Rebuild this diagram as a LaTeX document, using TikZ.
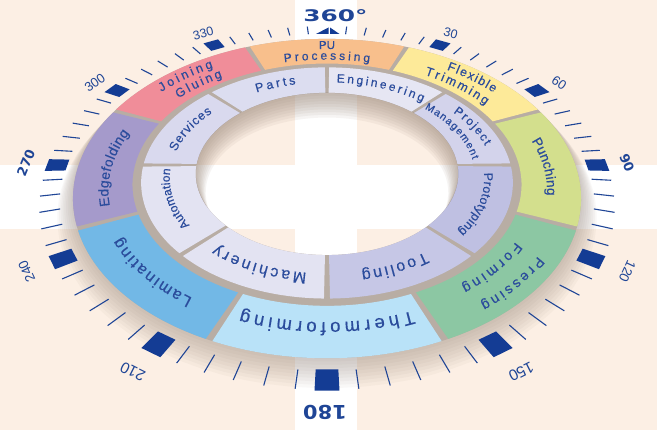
\documentclass[tikz,border=0pt]{standalone}
\usepackage{fontspec}
\setmainfont{Liberation Sans}
\newfontfamily\segfont[FakeBold=0.4]{Liberation Sans}
\newfontfamily\numfont{Liberation Sans}
\newfontfamily\bigfont{DejaVu Sans}
\usetikzlibrary{decorations.text}
\definecolor{bgpeach}{HTML}{FCEFE4}
\definecolor{taupe}{HTML}{B8ADA4}
\definecolor{shadowc}{HTML}{8A7A6E}
\definecolor{holesh}{HTML}{9C8A7C}
\definecolor{txt}{HTML}{2B4C9C}
\definecolor{tickc}{HTML}{1F4596}
\definecolor{mkc}{HTML}{143C94}
\definecolor{cPU}{HTML}{F8BF8C}
\definecolor{cFlex}{HTML}{FDEA99}
\definecolor{cPunch}{HTML}{D3DF8D}
\definecolor{cPress}{HTML}{8CC7A3}
\definecolor{cThermo}{HTML}{B9E2F8}
\definecolor{cLam}{HTML}{72B8E6}
\definecolor{cLamL}{HTML}{B6DEF5}
\definecolor{cEdge}{HTML}{A59ACB}
\definecolor{cJoin}{HTML}{F08D99}
\definecolor{iParts}{HTML}{DCDDF0}
\definecolor{iEng}{HTML}{E6E6F3}
\definecolor{iPM}{HTML}{D3D3EB}
\definecolor{iProto}{HTML}{BFC0E2}
\definecolor{iTool}{HTML}{C6C7E6}
\definecolor{iMach}{HTML}{E3E3F2}
\definecolor{iAuto}{HTML}{E3E3F2}
\definecolor{iServ}{HTML}{D9D9EE}
% segment: r1 r2 a1 a2 style
\newcommand\seg[5]{\path[#5] plot[domain=#3:#4,samples=36,variable=\ang] ({PX(#2,\ang)},{PY(#2,\ang)}) -- plot[domain=#4:#3,samples=36,variable=\ang] ({PX(#1,\ang)},{PY(#1,\ang)}) -- cycle;}
% label along arc: r a1 a2 size raise text
\newcommand\lab[6]{\path[decorate,decoration={text along path,text align=fit to path,raise=#5,text color=txt,text={|\segfont\fontsize{#4}{#4}\selectfont|#6}}] plot[domain=#2:#3,samples=30,variable=\ang] ({PX(#1,\ang)},{PY(#1,\ang)});}
\newcommand\labc[6]{\path[decorate,decoration={text along path,text align=center,raise=#5,text color=txt,text={|\segfont\fontsize{#4}{#4}\selectfont|#6}}] plot[domain=#2:#3,samples=30,variable=\ang] ({PX(#1,\ang)},{PY(#1,\ang)});}
\begin{document}
\begin{tikzpicture}[x=1pt,y=-1pt,
  declare function={PX(\fr,\fa)=327+270*\fr*sin(\fa)/(1+0.2286*\fr*cos(\fa));
                    PY(\fr,\fa)=165-165.9*\fr*cos(\fa)/(1+0.2286*\fr*cos(\fa));},
  tickline/.style={draw=tickc,line width=1.1pt},
  numlab/.style={text=tickc,font=\numfont\fontsize{#1}{#1}\selectfont,inner sep=0pt},
  boldlab/.style={text=tickc,font=\bigfont\bfseries\fontsize{#1}{#1}\selectfont,inner sep=0pt}]
\useasboundingbox (0,0) rectangle (657,430);
% background
\fill[bgpeach] (0,0) rectangle (657,430);
\fill[white] (295,0) rectangle (357,430);
\fill[white] (0,165) rectangle (657,229);
% drop shadow (annulus, keeps the hole clear)
\foreach \d in {1,...,9}{
  \fill[shadowc,opacity=0.05,even odd rule] plot[domain=0:360,samples=90,variable=\ang] ({PX(0.92+0.006*\d,\ang)},{PY(0.92+0.006*\d,\ang)+1.7*\d}) -- cycle
    plot[domain=0:360,samples=90,variable=\ang] ({PX(0.6,\ang)},{PY(0.6,\ang)}) -- cycle;}
% taupe base ring
\fill[taupe,even odd rule] plot[domain=0:360,samples=120,variable=\ang] ({PX(0.92,\ang)},{PY(0.92,\ang)}) -- cycle
  plot[domain=0:360,samples=120,variable=\ang] ({PX(0.483,\ang)},{PY(0.483,\ang)}) -- cycle;
% outer segments
\seg{0.711}{0.92}{-21.8}{21.8}{fill=cPU}
\seg{0.711}{0.92}{23.2}{66.8}{fill=cFlex}
\seg{0.711}{0.92}{68.2}{111.8}{fill=cPunch}
\seg{0.711}{0.92}{113.2}{156.8}{fill=cPress}
\seg{0.711}{0.92}{158.2}{201.8}{fill=cThermo}
\seg{0.711}{0.92}{203.2}{246.8}{left color=cLam,middle color=cLamL,right color=cLam,shading angle=140}
\seg{0.711}{0.92}{248.2}{291.8}{fill=cEdge}
\seg{0.711}{0.92}{293.2}{336.8}{fill=cJoin}
% inner segments
\seg{0.483}{0.68}{315.8}{359.2}{fill=iParts}
\seg{0.483}{0.68}{0.8}{44.2}{fill=iEng}
\seg{0.483}{0.68}{45.8}{89.2}{fill=iPM}
\seg{0.483}{0.68}{90.8}{134.2}{fill=iProto}
\seg{0.483}{0.68}{135.8}{179.2}{fill=iTool}
\seg{0.483}{0.68}{180.8}{224.2}{fill=iMach}
\seg{0.483}{0.68}{225.8}{269.2}{fill=iAuto}
\seg{0.483}{0.68}{270.8}{314.2}{fill=iServ}
% hole inner shadow
\begin{scope}
  \clip plot[domain=0:360,samples=120,variable=\ang] ({PX(0.483,\ang)},{PY(0.483,\ang)}) -- cycle;
  \foreach \d in {1,...,9}{
    \fill[holesh,opacity=0.09,even odd rule] (0,0) rectangle (657,430)
      plot[domain=0:360,samples=90,variable=\ang] ({PX(0.483-0.004*\d,\ang)},{PY(0.483-0.004*\d,\ang)+2.2*\d}) -- cycle;}
\end{scope}
% outer labels
\labc{0.862}{-20}{20}{11.5}{-3.4pt}{PU}
\lab{0.772}{-14}{14}{12}{-3.5pt}{Processing}
\lab{0.862}{37}{54}{12.5}{-3.6pt}{Flexible}
\lab{0.772}{33}{57.5}{12.5}{-3.6pt}{Trimming}
\lab{0.815}{78.5}{102.5}{13.5}{-3.9pt}{Punching}
\lab{0.862}{125.5}{146}{14}{-4pt}{Pressing}
\lab{0.772}{124}{146}{14}{-4pt}{Forming}
\lab{0.80}{160.5}{199.5}{18.5}{-5.3pt}{Thermoforming}
\lab{0.815}{211.5}{240}{16}{-4.6pt}{Laminating}
\lab{0.81}{253}{285.5}{14}{-4pt}{Edgefolding}
\lab{0.862}{306.5}{325}{12.5}{-3.6pt}{Joining}
\lab{0.772}{307}{324.5}{12.5}{-3.6pt}{Gluing}
% inner labels
\lab{0.59}{330}{347}{12.5}{-3.6pt}{Parts}
\lab{0.59}{4}{42}{12}{-3.5pt}{Engineering}
\lab{0.628}{55}{78}{12}{-3.5pt}{Project}
\lab{0.556}{46}{86}{10.5}{-3.1pt}{Management}
\lab{0.59}{94.5}{130}{12.5}{-3.6pt}{Prototyping}
\lab{0.59}{146}{169}{16}{-4.6pt}{Tooling}
\lab{0.59}{186.5}{219.5}{16}{-4.6pt}{Machinery}
\lab{0.59}{234}{268}{12}{-3.5pt}{Automation}
\lab{0.59}{279}{307.5}{12.5}{-3.6pt}{Services}
% ticks
\foreach \b in {0,30,...,330}{\foreach \d in {5,10,15,20,25}{
  \draw[tickline] ({PX(0.965,\b+\d)},{PY(0.965,\b+\d)}) -- ({PX(1.035,\b+\d)},{PY(1.035,\b+\d)});}}
% markers
\foreach \ang in {30,60,...,330}{
  \fill[mkc] ({PX(0.962,\ang-1.95)},{PY(0.962,\ang-1.95)}) -- ({PX(1.038,\ang-1.95)},{PY(1.038,\ang-1.95)})
    -- ({PX(1.038,\ang+1.95)},{PY(1.038,\ang+1.95)}) -- ({PX(0.962,\ang+1.95)},{PY(0.962,\ang+1.95)}) -- cycle;}
% 360 triangles
\fill[mkc] (316,34) -- (328.5,34) -- (328.5,27.5) -- cycle;
\fill[mkc] (330,27.5) -- (330,34) -- (339.5,34) -- cycle;
% small numbers
\foreach \ang/\s/\z in {30/30/12.5,60/60/13,120/120/13.5,150/150/15.5,210/210/15.5,240/240/13.5,300/300/13,330/330/12.5}{
  \node[numlab=\z,rotate={atan2(-165.9*sin(\ang),270*(cos(\ang)+0.2537))}] (lab\s) at ({PX(1.12,\ang)},{PY(1.12,\ang)}) {\s};}
% bold numbers
\node[boldlab=16,xscale=1.55] (n360) at (335.5,15.5) {360°};
\node[boldlab=19,rotate=180,xscale=1.1] (n180) at (325,412) {180};
\node[boldlab=13,rotate=-67.6] (n90) at (627,163) {90};
\node[boldlab=13,rotate=67.6] (n270) at (26,163) {270};
\end{tikzpicture}
\end{document}
